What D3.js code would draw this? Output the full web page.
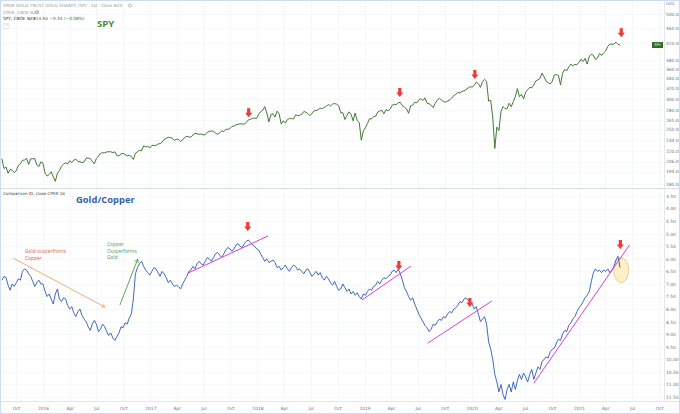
<!DOCTYPE html>
<html><head><meta charset="utf-8">
<script src="https://cdn.jsdelivr.net/npm/d3@7"></script>
<style>html,body{margin:0;padding:0;background:#fff;} svg{display:block;font-family:"DejaVu Sans",sans-serif;}</style>
</head><body><svg id="c" width="680" height="414"></svg>
<script>
// ---- data (weekly closes, each year's array starts at the given Friday) ----
const yearStarts = ["2015-08-14","2016-01-01","2017-01-06","2018-01-05","2019-01-04","2020-01-03","2021-01-08"];
const spy2015 = [209.4,197.6,199.3,192.0,196.5,195.5,192.9,195.0,201.3,203.3,207.5,207.9,210.0,202.5,209.3,209.6,209.6,201.9,200.0,205.7];
const spy2016 = [203.9,192.0,188.8,190.5,193.7,187.9,182.9,192.0,195.1,200.4,202.8,204.4,203.1,206.9,204.5,207.8,208.9,206.3,205.7,204.8,205.5,210.2,210.3,209.8,206.5,203.2,209.9,212.6,216.4,217.2,217.1,218.2,218.5,218.5,217.3,218.4,213.3,213.4,215.8,216.3,215.0,213.1,213.7,212.5,208.6,216.4,218.5,220.4,219.7,226.5,225.0,225.7,223.5];
const spy2017 = [227.0,227.1,226.7,229.0,229.3,231.5,235.4,236.7,238.4,237.7,237.0,233.9,235.7,235.2,232.5,234.6,238.1,239.7,239.0,238.3,241.7,244.0,243.4,242.6,243.1,241.8,242.1,245.6,247.1,247.3,247.4,244.1,242.7,244.6,247.8,246.6,250.1,250.0,251.2,254.4,254.9,257.1,257.7,258.7,258.1,257.9,260.4,264.5,265.5,267.0,267.5,266.9];
const spy2018 = [273.4,278.1,280.4,286.6,275.5,261.5,273.1,274.7,269.1,278.9,274.2,258.1,263.2,259.7,265.2,266.6,266.6,266.0,272.9,271.3,272.2,273.6,278.2,277.1,274.7,271.3,275.4,279.6,279.7,281.4,283.6,283.2,285.1,287.5,290.3,287.6,290.9,292.0,290.7,287.8,276.0,276.3,265.3,271.9,277.8,273.7,263.3,275.7,263.6,260.5,234.3,247.8];
const spy2019 = [252.4,259.0,266.5,266.0,270.1,270.5,277.4,279.1,280.4,274.5,281.3,279.3,282.5,288.6,290.7,290.0,293.4,294.0,288.1,285.8,282.8,275.3,287.7,289.3,294.0,293.0,298.5,300.7,297.2,302.0,292.6,291.6,288.9,284.9,292.5,298.1,301.1,298.3,295.4,294.4,296.3,298.0,301.6,306.1,308.4,311.8,311.0,314.3,314.9,317.3,320.7,322.9];
const spy2020 = [322.4,325.7,332.0,328.8,321.7,332.2,337.6,333.5,296.3,297.5,269.3,222.9,253.4,248.2,278.2,286.6,283.0,282.8,292.4,286.3,295.4,304.3,319.3,304.2,308.6,300.1,312.2,317.6,321.7,320.9,326.5,334.6,336.8,339.5,350.6,342.6,334.1,330.7,328.7,333.8,346.9,347.3,345.8,326.5,350.2,358.1,355.3,363.7,369.9,366.3,369.2,369.0,373.9];
const spy2021 = [381.3,375.7,382.9,370.1,387.7,392.6,390.0,380.4,383.6,394.1,389.5,396.0,400.6,411.5,417.3,416.7,417.3,422.1,416.6,414.9];

const ratio2015 = [6.85,6.70,6.75,7.05,7.25,7.0,7.1,6.95,6.8,6.85,6.5,6.4,6.45,6.6,6.7,6.9,7.1,6.95,6.85,7.0];
const ratio2016 = [7.0,7.3,7.5,7.4,7.6,7.8,7.4,7.2,7.6,7.7,7.55,7.6,7.85,8.0,7.9,8.15,8.3,8.1,8.0,8.25,8.4,8.5,8.7,8.85,8.6,8.45,8.6,8.9,8.8,8.6,8.7,8.9,9.05,8.95,9.15,9.25,9.1,8.95,8.7,8.75,8.55,8.6,8.35,8.2,7.6,6.6,6.35,6.2,6.1,6.3,6.45,6.55,6.65];
const ratio2017 = [6.5,6.35,6.4,6.55,6.7,6.5,6.6,6.75,6.95,6.85,7.0,7.1,7.05,7.1,7.2,7.0,6.85,6.7,6.5,6.45,6.3,6.4,6.2,6.1,6.2,6.25,6.1,5.95,6.0,6.1,5.95,5.8,5.75,5.85,5.95,5.8,5.65,5.55,5.6,5.7,5.6,5.45,5.4,5.5,5.55,5.4,5.3,5.25,5.35,5.45,5.5,5.6];
const ratio2018 = [5.65,5.8,5.95,6.1,6.0,6.15,6.1,6.05,6.15,6.35,6.3,6.45,6.35,6.25,6.4,6.5,6.35,6.25,6.3,6.45,6.4,6.5,6.6,6.45,6.4,6.55,6.7,6.6,6.5,6.65,6.55,6.75,6.85,6.7,6.8,6.95,7.05,6.9,7.1,7.25,7.2,7.0,7.15,7.3,7.2,7.4,7.3,7.45,7.35,7.5,7.6,7.4];
const ratio2019 = [7.45,7.3,7.2,7.25,7.1,7.05,6.9,7.0,6.85,6.75,6.8,6.7,6.65,6.5,6.45,6.55,6.4,6.6,6.85,7.15,7.3,7.5,7.65,7.55,7.8,8.0,8.2,8.35,8.5,8.65,8.75,8.9,8.8,8.6,8.65,8.5,8.4,8.45,8.3,8.35,8.2,8.1,8.15,8.0,7.95,7.85,7.7,7.75,7.6,7.55,7.65,7.7];
const ratio2020 = [7.8,8.0,7.9,8.2,8.5,8.4,8.3,8.6,9.3,9.6,10.0,10.6,10.9,11.3,11.0,11.4,11.6,11.2,11.0,11.3,10.9,11.2,10.85,10.6,10.8,10.55,10.7,10.9,10.6,10.4,10.8,10.55,10.3,10.4,10.1,10.0,9.9,9.95,9.7,9.6,9.55,9.35,9.2,9.25,9.0,8.85,8.9,8.65,8.55,8.4,8.3,8.1,7.95];
const ratio2021 = [7.85,7.7,7.55,7.45,7.3,6.9,6.55,6.4,6.5,6.45,6.55,6.45,6.5,6.4,6.55,6.45,6.3,6.05,5.9,6.35];

const spyTicks = [500,460,420,380,360,340,320,300,280,265,250,234,220,206,194,180];
const ratioTicks = [3.5,4,4.5,5,5.5,6,6.5,7,7.5,8,8.5,9,9.5,10,10.5,11,11.5];
const xTickDates = ["2015-10-01","2016-01-01","2016-04-01","2016-07-01","2016-10-01","2017-01-01","2017-04-01","2017-07-01","2017-10-01","2018-01-01","2018-04-01","2018-07-01","2018-10-01","2019-01-01","2019-04-01","2019-07-01","2019-10-01","2020-01-01","2020-04-01","2020-07-01","2020-10-01","2021-01-01","2021-04-01","2021-07-01","2021-10-01"];

// annotations (date, value)
const topArrows = [["2017-12-02",269],["2019-05-01",303.6],["2020-01-12",338.3],["2021-05-25",435]];
const bottomArrows = [["2017-11-29",4.89],["2019-04-28",6.45],["2019-12-26",7.92],["2021-05-22",5.61]];
const trendLines = [
  [["2017-05-09",6.57],["2018-02-06",5.09]],
  [["2018-12-23",7.64],["2019-06-08",6.29]],
  [["2019-08-04",9.36],["2020-03-10",7.68]],
  [["2020-07-31",10.95],["2021-06-22",5.45]]
];
const orangeArrow = [["2015-09-21",5.97],["2016-07-30",7.92]];
const greenArrow = [["2016-09-19",7.84],["2016-11-19",6.01]];
const highlight = ["2021-05-25",6.45];

// ---- build ----
const parse = d3.timeParse("%Y-%m-%d");
function build(arrs){
  const out=[];
  arrs.forEach((a,k)=>{const s=parse(yearStarts[k]); a.forEach((v,i)=>out.push({date:d3.timeDay.offset(s,7*i),v}));});
  return out;
}
const spy = build([spy2015,spy2016,spy2017,spy2018,spy2019,spy2020,spy2021]);
const ratio = build([ratio2015,ratio2016,ratio2017,ratio2018,ratio2019,ratio2020,ratio2021]);

const svg = d3.select("#c");
const plotR = 664, topB = 188, botT = 189, botB = 401;
const x = d3.scaleTime().domain([parse("2016-01-01"),parse("2021-01-01")]).range([43,579]);
const yTop = d3.scaleLog().domain([180,500]).range([184,14]);
const yBot = d3.scaleLinear().domain([3.5,11.5]).range([196,397]);

svg.append("rect").attr("width",680).attr("height",414).attr("fill","#fff");
const defs = svg.append("defs");
defs.append("clipPath").attr("id","cT").append("rect").attr("x",0).attr("y",0).attr("width",plotR).attr("height",topB);
defs.append("clipPath").attr("id","cB").append("rect").attr("x",0).attr("y",botT).attr("width",plotR).attr("height",botB-botT);

// grid
const grid = svg.append("g").attr("stroke","#f0f2f6").attr("stroke-width",0.6);
xTickDates.forEach(s=>{const xx=Math.round(x(parse(s)))+0.5; grid.append("line").attr("x1",xx).attr("x2",xx).attr("y1",0).attr("y2",botB);});
spyTicks.forEach(t=>{const yy=Math.round(yTop(t))+0.5; grid.append("line").attr("x1",0).attr("x2",plotR).attr("y1",yy).attr("y2",yy);});
ratioTicks.forEach(t=>{const yy=Math.round(yBot(t))+0.5; grid.append("line").attr("x1",0).attr("x2",plotR).attr("y1",yy).attr("y2",yy);});

// panel borders
svg.append("line").attr("x1",0).attr("x2",680).attr("y1",topB+0.5).attr("y2",topB+0.5).attr("stroke","#d9dce3").attr("stroke-width",1);
svg.append("line").attr("x1",plotR+0.5).attr("x2",plotR+0.5).attr("y1",0).attr("y2",botB).attr("stroke","#e3e6ec");
svg.append("line").attr("x1",0).attr("x2",680).attr("y1",botB+0.5).attr("y2",botB+0.5).attr("stroke","#e3e6ec");

// highlight ellipse (behind line)
svg.append("ellipse").attr("cx",x(parse(highlight[0]))).attr("cy",yBot(highlight[1])).attr("rx",7.5).attr("ry",12.5)
  .attr("fill","#fcf1c6").attr("stroke","#e3c27e").attr("stroke-width",0.8);

// lines
svg.append("path").datum(spy).attr("clip-path","url(#cT)").attr("fill","none").attr("stroke","#2f6a1f").attr("stroke-width",0.9)
  .attr("d",d3.line().x(d=>x(d.date)).y(d=>yTop(d.v)));
svg.append("path").datum(ratio).attr("clip-path","url(#cB)").attr("fill","none").attr("stroke","#2c58b0").attr("stroke-width",0.9)
  .attr("d",d3.line().x(d=>x(d.date)).y(d=>yBot(d.v)));

// trend lines
trendLines.forEach(l=>{
  svg.append("line").attr("x1",x(parse(l[0][0]))).attr("y1",yBot(l[0][1])).attr("x2",x(parse(l[1][0]))).attr("y2",yBot(l[1][1]))
    .attr("stroke","#d93fd2").attr("stroke-width",1);
});

// orange and green arrows
function drawArrow(pts,color){
  const x1=x(parse(pts[0][0])),y1=yBot(pts[0][1]),x2=x(parse(pts[1][0])),y2=yBot(pts[1][1]);
  svg.append("line").attr("x1",x1).attr("y1",y1).attr("x2",x2).attr("y2",y2).attr("stroke",color).attr("stroke-width",0.9);
  const a=Math.atan2(y2-y1,x2-x1), L=4, w=0.5;
  const p1=[x2-L*Math.cos(a-w),y2-L*Math.sin(a-w)], p2=[x2-L*Math.cos(a+w),y2-L*Math.sin(a+w)];
  svg.append("path").attr("d",`M${p1}L${x2},${y2}L${p2}`).attr("fill","none").attr("stroke",color).attr("stroke-width",0.9);
}
drawArrow(orangeArrow,"#f2a36a");
drawArrow(greenArrow,"#4f9a4a");

// red arrows
const arrowPath = "M-1.6,-9L1.6,-9L1.6,-4.5L3.6,-4.5L0,0L-3.6,-4.5L-1.6,-4.5Z";
topArrows.forEach(a=>svg.append("path").attr("d",arrowPath).attr("fill","#ee3b36").attr("transform",`translate(${x(parse(a[0]))},${yTop(a[1])})`));
bottomArrows.forEach(a=>svg.append("path").attr("d",arrowPath).attr("fill","#ee3b36").attr("transform",`translate(${x(parse(a[0]))},${yBot(a[1])})`));

// axes
const fmt2 = d3.format(".2f");
function styleAxis(g){g.select(".domain").remove(); g.selectAll("line").remove(); g.selectAll("text").attr("fill","#6f727c").attr("font-size",4.4).attr("font-family","DejaVu Sans, sans-serif");}
svg.append("g").attr("transform","translate(666,0)").call(d3.axisRight(yTop).tickValues(spyTicks).tickFormat(fmt2).tickSize(0).tickPadding(0)).call(styleAxis);
svg.append("g").attr("transform","translate(666,0)").call(d3.axisRight(yBot).tickValues(ratioTicks).tickFormat(fmt2).tickSize(0).tickPadding(0)).call(styleAxis);
const fmtX = d=> d.getMonth()===0 ? d3.timeFormat("%Y")(d) : d3.timeFormat("%b")(d);
svg.append("g").attr("transform","translate(0,404)").call(d3.axisBottom(x).tickValues(xTickDates.map(parse)).tickFormat(fmtX).tickSize(0).tickPadding(3)).call(styleAxis);

// last price label
const lastSpy = spy[spy.length-1];
svg.append("rect").attr("x",652).attr("y",yTop(lastSpy.v)-3).attr("width",11).attr("height",6).attr("fill","#2e6b25");
svg.append("text").attr("x",657.5).attr("y",yTop(lastSpy.v)+1.4).attr("text-anchor","middle").attr("font-size",3.6).attr("fill","#fff").text("SPY");
svg.append("text").attr("x",670).attr("y",5).attr("text-anchor","middle").attr("font-size",3.8).attr("fill","#6f727c").text("USD");

// header texts
const hdr = svg.append("g").attr("font-size",4.3);
hdr.append("text").attr("x",3).attr("y",7).attr("fill","#9a9ca5").text("SPDR GOLD TRUST GOLD SHARES /SPY · 1D · Cboe BZX");
hdr.append("circle").attr("cx",130).attr("cy",5.5).attr("r",1.6).attr("fill","none").attr("stroke","#8a8d96").attr("stroke-width",0.6);
hdr.append("text").attr("x",3).attr("y",13.5).attr("fill","#9a9ca5").text("CPER, CBOE BZX");
hdr.append("circle").attr("cx",37).attr("cy",12).attr("r",1.5).attr("fill","none").attr("stroke","#8a8d96").attr("stroke-width",0.6);
hdr.append("text").attr("x",3).attr("y",20).attr("fill","#33353c").text("SPY, CBOE BZX");
hdr.append("text").attr("x",33).attr("y",20).attr("fill","#2f7a3a").text("414.94  −0.34 (−0.08%)");
svg.append("rect").attr("x",3).attr("y",23.5).attr("width",6).attr("height",5).attr("fill","#fff").attr("stroke","#c8cbd3").attr("stroke-width",0.5).attr("rx",0.8);
svg.append("text").attr("x",5).attr("y",26.8).attr("font-size",3.5).attr("fill","#555").text("^");
svg.append("text").attr("x",3).attr("y",194.5).attr("font-size",4.1).attr("fill","#33353c").text("Comparison ID, close CPER 16");

// titles
svg.append("text").attr("x",97).attr("y",27.3).attr("font-size",9.6).attr("font-weight","bold").attr("font-family","Open Sans, sans-serif").attr("fill","#4b8a3c").text("SPY");
svg.append("text").attr("x",76).attr("y",203.3).attr("font-size",9.4).attr("font-weight","bold").attr("font-family","Open Sans, sans-serif").attr("fill","#3a5ea8").text("Gold/Copper");

// annotation texts
const ann = svg.append("g").attr("font-size",4.9).attr("font-family","Open Sans, sans-serif");
ann.append("text").attr("x",25).attr("y",252.5).attr("fill","#e2574b").text("Gold outperfroms");
ann.append("text").attr("x",25).attr("y",259.5).attr("fill","#e2574b").text("Copper");
ann.append("text").attr("x",107).attr("y",246.3).attr("fill","#4f9a4a").text("Copper");
ann.append("text").attr("x",107).attr("y",252.8).attr("fill","#4f9a4a").text("Outperforms");
ann.append("text").attr("x",107).attr("y",259.3).attr("fill","#4f9a4a").text("Gold");

// frame
svg.append("rect").attr("x",0.5).attr("y",0.5).attr("width",679).attr("height",413).attr("fill","none").attr("stroke","#cddcf0").attr("stroke-width",1);
</script></body></html>
